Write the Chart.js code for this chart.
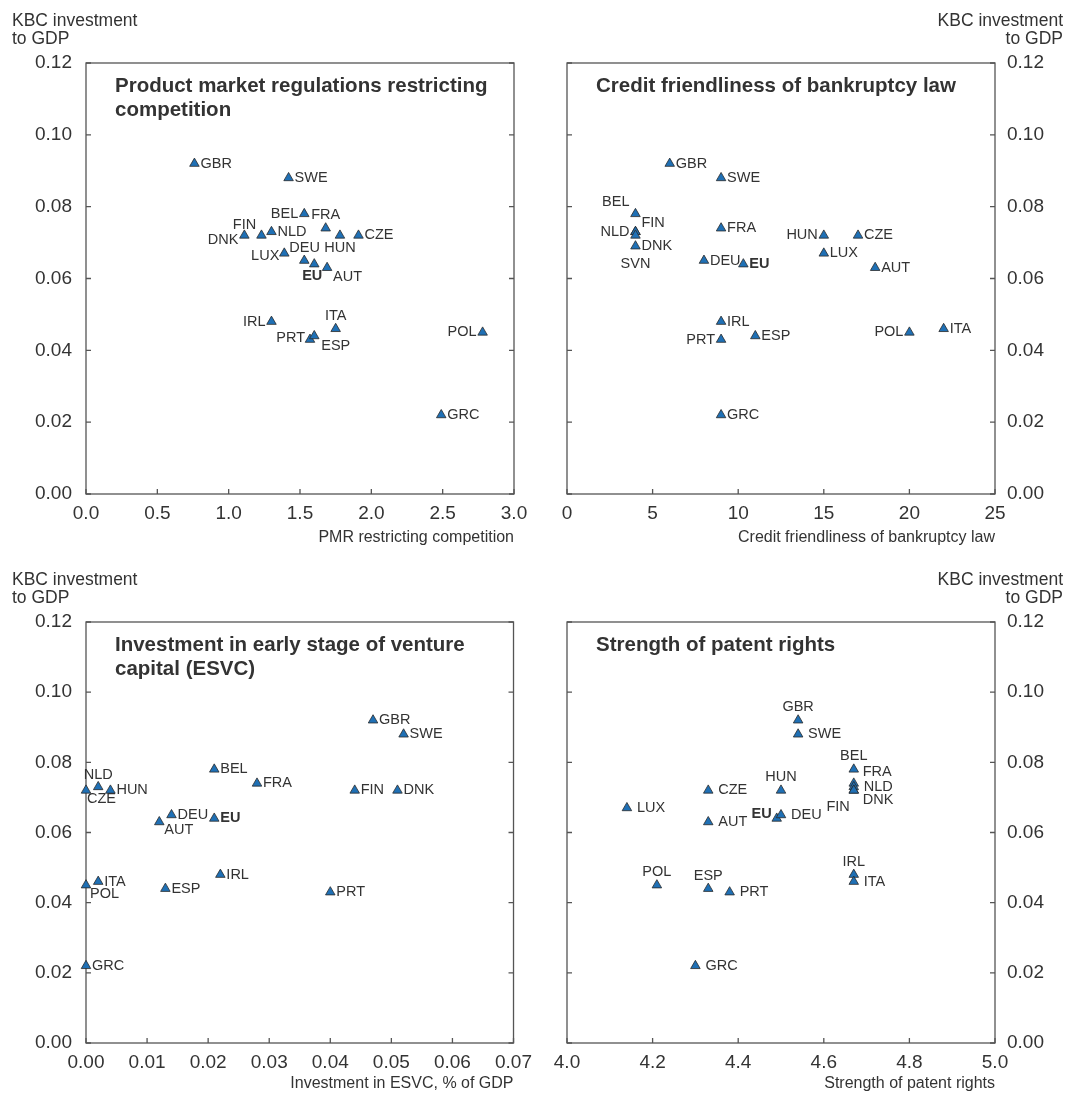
<!DOCTYPE html>
<html>
<head>
<meta charset="utf-8">
<script src="https://cdn.jsdelivr.net/npm/chart.js@4.4.0/dist/chart.umd.min.js"></script>
<style>
  body { margin: 0; background: #fff; }
  #wrap { position: relative; width: 1067px; height: 1093px; }
  #wrap canvas { position: absolute; }
</style>
</head>
<body>
<div id="wrap">
  <canvas id="pmrChart" width="540" height="555" style="left:0;top:0"></canvas>
  <canvas id="bankChart" width="527" height="555" style="left:540px;top:0"></canvas>
  <canvas id="esvcChart" width="540" height="538" style="left:0;top:555px"></canvas>
  <canvas id="patentChart" width="527" height="538" style="left:540px;top:555px"></canvas>
</div>
<script>
// KBC investment to GDP (y) against four institutional indicators (x)

var pmrCountries = ['GBR','SWE','BEL','FRA','DNK','FIN','NLD','HUN','CZE','LUX','DEU','EU','AUT','IRL','PRT','ESP','ITA','POL','GRC'];
var pmrValues    = [0.76, 1.42, 1.53, 1.68, 1.11, 1.23, 1.30, 1.78, 1.91, 1.39, 1.53, 1.60, 1.69, 1.30, 1.57, 1.60, 1.75, 2.78, 2.49];
var pmrKbc       = [0.092,0.088,0.078,0.074,0.072,0.072,0.073,0.072,0.072,0.067,0.065,0.064,0.063,0.048,0.043,0.044,0.046,0.045,0.022];

var bankCountries = ['GBR','SWE','BEL','FIN','NLD','DNK','SVN','FRA','DEU','EU','HUN','CZE','LUX','AUT','IRL','PRT','ESP','POL','ITA','GRC'];
var bankValues    = [6, 9, 4, 4, 4, 4, 4, 9, 8, 10.3, 15, 17, 15, 18, 9, 9, 11, 20, 22, 9];
var bankKbc       = [0.092,0.088,0.078,0.073,0.073,0.072,0.069,0.074,0.065,0.064,0.072,0.072,0.067,0.063,0.048,0.043,0.044,0.045,0.046,0.022];

var esvcCountries = ['GBR','SWE','BEL','FRA','FIN','DNK','CZE','NLD','HUN','DEU','AUT','EU','IRL','ESP','PRT','ITA','POL','GRC'];
var esvcValues    = [0.047,0.052,0.021,0.028,0.044,0.051,0.000,0.002,0.004,0.014,0.012,0.021,0.022,0.013,0.040,0.002,0.000,0.000];
var esvcKbc       = [0.092,0.088,0.078,0.074,0.072,0.072,0.072,0.073,0.072,0.065,0.063,0.064,0.048,0.044,0.043,0.046,0.045,0.022];

var patentCountries = ['GBR','SWE','BEL','FRA','NLD','FIN','DNK','HUN','CZE','LUX','AUT','EU','DEU','IRL','ITA','POL','ESP','PRT','GRC'];
var patentValues    = [4.54, 4.54, 4.67, 4.67, 4.67, 4.67, 4.67, 4.50, 4.33, 4.14, 4.33, 4.49, 4.50, 4.67, 4.67, 4.21, 4.33, 4.38, 4.30];
var patentKbc       = [0.092,0.088,0.078,0.074,0.073,0.072,0.072,0.072,0.072,0.067,0.063,0.064,0.065,0.048,0.046,0.045,0.044,0.043,0.022];

var kbcTicks = [0, 0.02, 0.04, 0.06, 0.08, 0.10, 0.12];

// where each country label sits next to its marker
var pmrLabelPos = {
  BEL: 'l', FRA: 'a', DNK: [-6, 5, 'right'], FIN: [-17, -10, 'center'], HUN: 'b',
  LUX: [-5, 3, 'right'], DEU: [-15, -13, 'left'], EU: [-2, 12, 'center'],
  AUT: [6, 9, 'left'], IRL: 'l', PRT: [-5, -2, 'right'], ESP: [7, 10, 'left'],
  ITA: 'a', POL: 'l'
};
var bankLabelPos = {
  BEL: [-6, -12, 'right'], FIN: [6, -9, 'left'], NLD: 'l', DNK: [6, 11, 'left'],
  SVN: [0, 18, 'center'], HUN: 'l', PRT: 'l', POL: 'l'
};
var esvcLabelPos = {
  NLD: [0, -12, 'center'], CZE: [1, 9, 'left'], AUT: [5, 8, 'left'], POL: [4, 9, 'left']
};
var patentLabelPos = {
  GBR: 'a', BEL: 'a', FRA: [9, -11, 'left'], DNK: [9, 10, 'left'], FIN: [-4, 17, 'right'],
  HUN: 'a', EU: [-5, -4, 'right'], IRL: 'a', POL: 'a', ESP: 'a'
};

var FONT = '"Liberation Sans", Arial, Helvetica, sans-serif';
var TEXT = '#333333';
Chart.defaults.font.family = FONT;
Chart.defaults.color = TEXT;

var framePlugin = {
  id: 'frame',
  beforeDatasetsDraw: function(chart) {
    var a = chart.chartArea, ctx = chart.ctx;
    var xs = chart.scales.x, ys = chart.scales.y;
    ctx.save();
    ctx.strokeStyle = '#555';
    ctx.lineWidth = 1.3;
    ctx.strokeRect(a.left, a.top, a.right - a.left, a.bottom - a.top);
    ctx.beginPath();
    xs.ticks.forEach(function(t) {
      var px = xs.getPixelForValue(t.value);
      ctx.moveTo(px, a.bottom); ctx.lineTo(px, a.bottom - 5);
    });
    ys.ticks.forEach(function(t) {
      var py = ys.getPixelForValue(t.value);
      ctx.moveTo(a.left, py); ctx.lineTo(a.left + 5, py);
      ctx.moveTo(a.right, py); ctx.lineTo(a.right - 5, py);
    });
    ctx.stroke();
    ctx.restore();
  }
};

var labelPlugin = {
  id: 'pointLabels',
  afterDatasetsDraw: function(chart, args, opts) {
    var ctx = chart.ctx;
    var meta = chart.getDatasetMeta(0);
    var g = opts.gap;
    ctx.save();
    ctx.fillStyle = TEXT;
    ctx.textBaseline = 'middle';
    meta.data.forEach(function(pt, i) {
      var name = opts.names[i];
      var p = opts.pos[name] || 'r';
      if (p === 'r') p = [g, 0, 'left'];
      else if (p === 'l') p = [-g, 0, 'right'];
      else if (p === 'a') p = [0, -13, 'center'];
      else if (p === 'b') p = [0, 13, 'center'];
      ctx.font = (name === 'EU' ? 'bold ' : '') + '14.5px ' + FONT;
      ctx.textAlign = p[2];
      ctx.fillText(name, pt.x + p[0], pt.y + p[1]);
    });
    ctx.restore();
  }
};

var textPlugin = {
  id: 'panelText',
  afterDraw: function(chart, args, opts) {
    var a = chart.chartArea, ctx = chart.ctx;
    ctx.save();
    ctx.fillStyle = TEXT;
    ctx.textBaseline = 'middle';
    ctx.textAlign = 'left';
    ctx.font = 'bold 20.5px ' + FONT;
    opts.title.forEach(function(line, i) {
      ctx.fillText(line, a.left + 29, a.top + 23 + i * 24);
    });
    ctx.font = '17.5px ' + FONT;
    var tx = 12;
    if (opts.right) { ctx.textAlign = 'right'; tx = chart.width - 4; }
    ctx.fillText('KBC investment', tx, a.top - 42);
    ctx.fillText('to GDP', tx, a.top - 24);
    ctx.restore();
  }
};

function makePanel(id, cfg) {
  var points = cfg.xs.map(function(x, i) { return { x: x, y: cfg.ys[i] }; });
  return new Chart(document.getElementById(id), {
    type: 'scatter',
    data: {
      datasets: [{
        data: points,
        pointStyle: 'triangle',
        pointRadius: 5.5,
        backgroundColor: '#1f70b5',
        borderColor: '#2a2a2a',
        borderWidth: 0.8,
        clip: false
      }]
    },
    options: {
      responsive: false,
      animation: false,
      events: [],
      layout: { padding: { top: cfg.top, left: cfg.right ? 27 : 0, right: cfg.right ? 0 : 26, bottom: 0 } },
      plugins: {
        legend: { display: false },
        tooltip: { enabled: false },
        pointLabels: { names: cfg.names, pos: cfg.pos, gap: cfg.gap },
        panelText: { title: cfg.title, right: cfg.right }
      },
      scales: {
        x: {
          type: 'linear',
          min: cfg.xMin, max: cfg.xMax,
          grid: { display: false, drawTicks: false },
          border: { display: false },
          ticks: {
            stepSize: cfg.xStep, autoSkip: false, maxRotation: 0, padding: 8,
            font: { size: 19 }, color: TEXT,
            callback: function(v) { return Number(v).toFixed(cfg.xDec); }
          },
          title: {
            display: true, text: cfg.xTitle, align: 'end', color: TEXT,
            font: { size: 16 }, padding: { top: 0, bottom: cfg.titlePad }
          },
          afterFit: function(s) { s.height = cfg.xHeight; }
        },
        y: {
          position: cfg.right ? 'right' : 'left',
          min: 0, max: 0.12,
          grid: { display: false, drawTicks: false },
          border: { display: false },
          afterBuildTicks: function(s) { s.ticks = kbcTicks.map(function(v) { return { value: v }; }); },
          ticks: {
            padding: cfg.right ? 12 : 14, font: { size: 19 }, color: TEXT,
            callback: function(v) { return Number(v).toFixed(2); }
          },
          afterFit: function(s) { s.width = cfg.right ? 72 : 86; }
        }
      }
    },
    plugins: [framePlugin, labelPlugin, textPlugin]
  });
}

makePanel('pmrChart', {
  names: pmrCountries, xs: pmrValues, ys: pmrKbc, pos: pmrLabelPos, gap: 6,
  title: ['Product market regulations restricting', 'competition'],
  xTitle: 'PMR restricting competition', xMin: 0, xMax: 3, xStep: 0.5, xDec: 1,
  right: false, top: 63, xHeight: 61, titlePad: 8
});

makePanel('bankChart', {
  names: bankCountries, xs: bankValues, ys: bankKbc, pos: bankLabelPos, gap: 6,
  title: ['Credit friendliness of bankruptcy law'],
  xTitle: 'Credit friendliness of bankruptcy law', xMin: 0, xMax: 25, xStep: 5, xDec: 0,
  right: true, top: 63, xHeight: 61, titlePad: 8
});

makePanel('esvcChart', {
  names: esvcCountries, xs: esvcValues, ys: esvcKbc, pos: esvcLabelPos, gap: 6,
  title: ['Investment in early stage of venture', 'capital (ESVC)'],
  xTitle: 'Investment in ESVC, % of GDP', xMin: 0, xMax: 0.07, xStep: 0.01, xDec: 2,
  right: false, top: 67, xHeight: 50, titlePad: 0
});

makePanel('patentChart', {
  names: patentCountries, xs: patentValues, ys: patentKbc, pos: patentLabelPos, gap: 10,
  title: ['Strength of patent rights'],
  xTitle: 'Strength of patent rights', xMin: 4, xMax: 5, xStep: 0.2, xDec: 1,
  right: true, top: 67, xHeight: 50, titlePad: 0
});
</script>
</body>
</html>
